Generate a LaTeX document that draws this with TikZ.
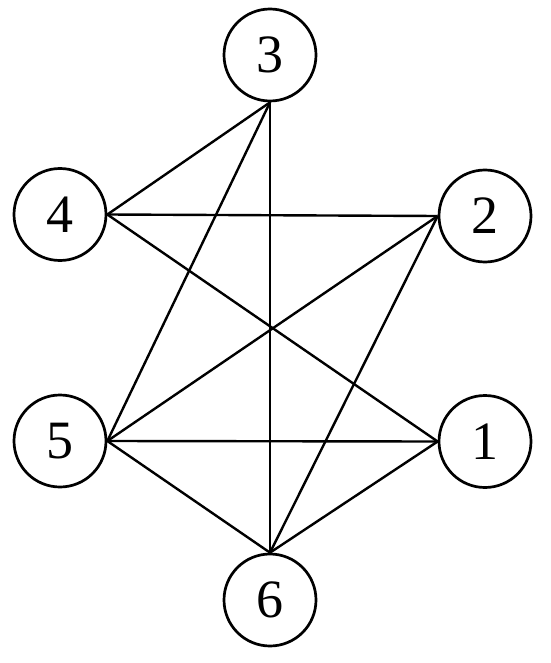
\documentclass[tikz,border=0pt]{standalone}
\usepackage{fontspec}
\setmainfont{Liberation Serif}
\begin{document}
\begin{tikzpicture}[x=1pt,y=-1pt,
  vtx/.style={circle,draw,line width=2.7pt,minimum size=92pt,inner sep=0pt,font=\fontsize{54}{54}\selectfont},
  edge/.style={line width=2.4pt}]
\useasboundingbox (0,0) rectangle (550,663);
\node[vtx] (n3) at (270,55) {3};
\node[vtx] (n4) at (60,214.5) {4};
\node[vtx] (n2) at (485,216) {2};
\node[vtx] (n5) at (60,441) {5};
\node[vtx] (n1) at (485,441.5) {1};
\node[vtx] (n6) at (270,600) {6};
\draw[edge] (n4.east) -- (n3.south);
\draw[edge] (n4.east) -- (n2.west);
\draw[edge] (n4.east) -- (n1.west);
\draw[edge] (n3.south) -- (n5.east);
\draw[edge] (n3.south) -- (n6.north);
\draw[edge] (n2.west) -- (n5.east);
\draw[edge] (n2.west) -- (n6.north);
\draw[edge] (n5.east) -- (n1.west);
\draw[edge] (n5.east) -- (n6.north);
\draw[edge] (n1.west) -- (n6.north);
\end{tikzpicture}
\end{document}
